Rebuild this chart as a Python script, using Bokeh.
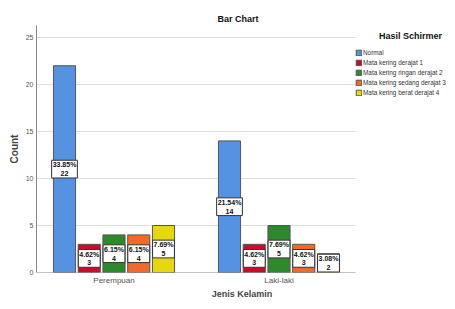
from bokeh.plotting import figure
from bokeh.models import ColumnDataSource, Range1d, Legend, LegendItem, Label, FixedTicker
from bokeh.core.properties import value
from bokeh.embed import file_html
from bokeh.resources import INLINE

categories = ["Perempuan", "Laki-laki"]
series = ["Normal", "Mata kering derajat 1", "Mata kering ringan derajat 2",
          "Mata kering sedang derajat 3", "Mata kering berat derajat 4"]
normal = [22, 14]
derajat1 = [3, 3]
derajat2 = [4, 5]
derajat3 = [4, 3]
derajat4 = [5, 2]
pct_normal = ["33.85%", "21.54%"]
pct_derajat1 = ["4.62%", "4.62%"]
pct_derajat2 = ["6.15%", "7.69%"]
pct_derajat3 = ["6.15%", "4.62%"]
pct_derajat4 = ["7.69%", "3.08%"]
y_ticks = [0, 5, 10, 15, 20, 25]

counts = [normal, derajat1, derajat2, derajat3, derajat4]
pcts = [pct_normal, pct_derajat1, pct_derajat2, pct_derajat3, pct_derajat4]
colors = ["#5592e2", "#cc0a2a", "#2d8a2a", "#f26a28", "#e6d70f"]

FONT = "Liberation Sans, Arial, sans-serif"

# layout constants (category axis positions in data units)
X_START, X_END = -0.4697, 2.0212     # frame extends under the legend area
PLOT_END = 1.4636                    # right end of the drawn plotting area
step = 0.15
width = 0.134
offsets = [-2 * step, -step, 0, step, 2 * step]
group_pos = list(range(len(categories)))

p = figure(width=447, height=301, output_backend="svg", toolbar_location=None,
           x_range=Range1d(X_START, X_END), y_range=Range1d(0, 26.28),
           min_border_left=36, min_border_right=0, min_border_top=25, min_border_bottom=29)
p.outline_line_color = None
p.background_fill_color = "white"

p.title.text = "Bar Chart"
p.title.align = "left"
p.title.offset = 181
p.title.standoff = 3
p.title.text_font = FONT
p.title.text_font_style = "bold"
p.title.text_font_size = "9px"
p.title.text_color = "#111111"

# grid lines and baseline limited to the plotting area
p.segment(x0=[X_START] * len(y_ticks[1:]), x1=[PLOT_END] * len(y_ticks[1:]),
          y0=y_ticks[1:], y1=y_ticks[1:], line_color="#dddddd", line_width=1)
p.segment(x0=[X_START], x1=[PLOT_END], y0=[y_ticks[0]], y1=[y_ticks[0]],
          line_color="#888888", line_width=1)

items = []
for i, name in enumerate(series):
    src = ColumnDataSource(dict(
        x=[g + offsets[i] for g in group_pos],
        top=counts[i],
        mid=[v / 2 for v in counts[i]],
        txt=[f"{pc}\n{v}" for pc, v in zip(pcts[i], counts[i])],
    ))
    r = p.vbar(x="x", top="top", width=width, source=src,
               fill_color=colors[i], line_color="#555555", line_width=1)
    p.text(x="x", y="mid", text="txt", source=src,
           text_font=value(FONT), text_font_style="bold", text_font_size="7px",
           text_align="center", text_baseline="middle", text_line_height=1.25,
           text_color="#111111",
           background_fill_color="white", border_line_color="#333333", border_line_width=1,
           padding=1)
    items.append(LegendItem(label=name, renderers=[r]))

legend = Legend(items=items, location=(319, 176), orientation="vertical",
                padding=0, margin=0, spacing=2, label_standoff=1,
                glyph_width=7, glyph_height=7, label_height=8,
                label_text_font=FONT, label_text_font_size="6.4px",
                label_text_color="#333333",
                background_fill_alpha=0, border_line_color=None)
p.add_layout(legend, "center")

p.add_layout(Label(x=374, y=237, x_units="screen", y_units="screen", text="Hasil Schirmer",
                   text_font=FONT, text_font_style="bold", text_font_size="9px",
                   text_align="center", text_baseline="middle", text_color="#111111"))

p.yaxis.ticker = y_ticks
p.yaxis.axis_label = "Count"
p.yaxis.axis_label_text_font = FONT
p.yaxis.axis_label_text_font_style = "bold"
p.yaxis.axis_label_text_font_size = "10px"
p.yaxis.axis_label_standoff = 3
p.yaxis.major_label_text_font = FONT
p.yaxis.major_label_text_font_size = "7px"
p.yaxis.major_label_text_color = "#555555"
p.yaxis.major_label_standoff = 3
p.yaxis.major_tick_out = 0
p.yaxis.major_tick_in = 0
p.yaxis.minor_tick_line_color = None
p.yaxis.axis_line_color = "#888888"

p.xaxis.ticker = FixedTicker(ticks=group_pos)
p.xaxis.major_label_overrides = {g: c for g, c in zip(group_pos, categories)}
p.xaxis.axis_label = "Jenis Kelamin"
p.xaxis.axis_label_text_font = FONT
p.xaxis.axis_label_text_font_style = "bold"
p.xaxis.axis_label_text_font_size = "9px"
p.xaxis.axis_label_standoff = 1
p.xaxis.major_label_text_font = FONT
p.xaxis.major_label_text_font_size = "8px"
p.xaxis.major_label_text_color = "#555555"
p.xaxis.major_label_standoff = 3
p.xaxis.major_tick_out = 0
p.xaxis.major_tick_in = 0
p.xaxis.major_tick_line_color = None
p.xaxis.minor_tick_line_color = None
p.xaxis.axis_line_color = None

p.xgrid.grid_line_color = None
p.ygrid.grid_line_color = None

open("out.html", "w").write(file_html(p, INLINE))
